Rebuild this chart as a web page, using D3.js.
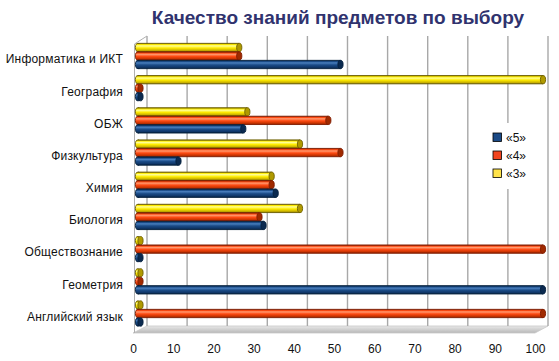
<!DOCTYPE html>
<html><head><meta charset="utf-8">
<script src="https://cdn.jsdelivr.net/npm/d3@7"></script>
<style>body{margin:0;background:#fff}svg{display:block}text{font-family:"Liberation Sans",Arial,sans-serif}</style>
</head><body>
<svg id="c" width="559" height="361"></svg>
<script>
const title = "Качество знаний предметов по выбору";
const categories = ["Информатика и ИКТ","География","ОБЖ ","Физкультура","Химия","Биология","Обществознание","Геометрия","Английский язык"];
const seriesNames = ["«3»","«4»","«5»"];
const values3 = [25,100,27,40,33,40,0,0,0];
const values4 = [25,0,47,50,33,30,100,0,100];
const values5 = [50,0,26,10,34,31,0,100,0];
const xTicks = [0,10,20,30,40,50,60,70,80,90,100];
const legendOrder = ["«5»","«4»","«3»"];

const seriesValues = {"«3»":values3,"«4»":values4,"«5»":values5};
const pal = {
  "«3»":{edge:"#6e6000",hi:"#ffff9a",mid:"#ffec00",lo:"#c9b000",cap:"#b09a00",sw:"#ffe34a"},
  "«4»":{edge:"#801c00",hi:"#ff9a70",mid:"#ff4a12",lo:"#c43200",cap:"#a02a00",sw:"#f2441e"},
  "«5»":{edge:"#05203d",hi:"#4a7fbd",mid:"#1b4c88",lo:"#0f3566",cap:"#0b2a50",sw:"#1b4a86"}
};

const svg = d3.select("#c");
const defs = svg.append("defs");
seriesNames.forEach((s,i)=>{
  const p = pal[s];
  const g = defs.append("linearGradient").attr("id","g"+i).attr("x1",0).attr("y1",0).attr("x2",0).attr("y2",1);
  [[0,p.edge],[0.15,p.mid],[0.3,p.hi],[0.55,p.mid],[0.85,p.lo],[1,p.edge]].forEach(([o,c])=>g.append("stop").attr("offset",o).attr("stop-color",c));
});
const fg = defs.append("linearGradient").attr("id","floor").attr("x1",0).attr("y1",0).attr("x2",0).attr("y2",1);
fg.append("stop").attr("offset",0).attr("stop-color","#e8e8e8");
fg.append("stop").attr("offset",1).attr("stop-color","#b8b8b8");

// scales
const xBar = d3.scaleLinear().domain([0,100]).range([138,543]);
const xBack = d3.scaleLinear().domain([0,100]).range([147,548]);
const xFront = d3.scaleLinear().domain([0,100]).range([133,535]);
const yCat = d3.scaleBand().domain(categories).range([39.9,329.6]);
const ySub = d3.scaleBand().domain(seriesNames).range([-12.75,12.75]);
const backTop = 36, backBottom = 326, frontBottom = 333;

// title
svg.append("text").attr("x",338).attr("y",24).attr("text-anchor","middle")
  .attr("font-size",19).attr("font-weight","bold").attr("fill","#30336e").text(title);

// floor
svg.append("path").attr("d",`M${xFront(0)},${frontBottom} L${xBack(0)},${backBottom} L${xBack(100)},${backBottom} L${xFront(100)},${frontBottom} Z`)
  .attr("fill","url(#floor)").attr("stroke","#c8c8c8").attr("stroke-width",0.8);

// gridlines on back wall
svg.append("g").selectAll("line").data(xTicks).join("line")
  .attr("x1",d=>xBack(d)).attr("x2",d=>xBack(d)).attr("y1",backTop).attr("y2",backBottom)
  .attr("stroke","#a8a8a8").attr("stroke-width",1.4);
// left wall front edge
svg.append("line").attr("x1",134.5).attr("x2",134.5).attr("y1",backTop+8).attr("y2",frontBottom)
  .attr("stroke","#b0b0b0").attr("stroke-width",1);
svg.append("line").attr("x1",134.5).attr("x2",xBack(0)).attr("y1",backTop+8).attr("y2",backTop)
  .attr("stroke","#b0b0b0").attr("stroke-width",1);

// legend box (covers gridline)
svg.append("rect").attr("x",484).attr("y",123).attr("width",60).attr("height",66).attr("fill","#fff");
const lg = svg.append("g").selectAll("g").data(legendOrder).join("g")
  .attr("transform",(d,i)=>`translate(493,${133+i*18})`);
lg.append("rect").attr("width",8.5).attr("height",8.5).attr("fill",d=>pal[d].sw).attr("stroke","#000").attr("stroke-width",0.8);
lg.append("text").attr("x",13).attr("y",4.5).attr("dy","0.36em").attr("font-size",12).attr("fill","#111").text(d=>d);

// bars
const bars = [];
categories.forEach((c,ci)=>seriesNames.forEach((s,si)=>bars.push({c,s,si,v:seriesValues[s][ci]})));
const bh = 8.3, rx = 2.6;
const bg = svg.append("g").selectAll("g").data(bars).join("g")
  .attr("transform",d=>`translate(0,${yCat(d.c)+yCat.bandwidth()/2+ySub(d.s)+ySub.bandwidth()/2})`);
bg.each(function(d){
  const g = d3.select(this), p = pal[d.s];
  const x0 = xBar(0), x1 = Math.max(xBar(d.v), x0+2.5);
  g.append("ellipse").attr("cx",x0).attr("cy",0).attr("rx",rx).attr("ry",bh/2)
    .attr("fill","url(#g"+d.si+")").attr("stroke",p.edge).attr("stroke-width",0.9);
  if (d.v>0){
    g.append("rect").attr("x",x0).attr("y",-bh/2).attr("width",x1-x0).attr("height",bh)
      .attr("fill","url(#g"+d.si+")");
    g.append("line").attr("x1",x0).attr("x2",x1).attr("y1",-bh/2).attr("y2",-bh/2).attr("stroke",p.edge).attr("stroke-width",0.9);
    g.append("line").attr("x1",x0).attr("x2",x1).attr("y1",bh/2).attr("y2",bh/2).attr("stroke",p.edge).attr("stroke-width",0.9);
  }
  g.append("ellipse").attr("cx",x1).attr("cy",0).attr("rx",rx).attr("ry",bh/2)
    .attr("fill",p.cap).attr("stroke",p.edge).attr("stroke-width",0.9);
});

// category labels
svg.append("g").selectAll("text").data(categories).join("text")
  .attr("x",123).attr("y",d=>yCat(d)+yCat.bandwidth()/2+3).attr("dy","0.36em")
  .attr("text-anchor","end").attr("font-size",12).attr("letter-spacing",0.2).attr("fill","#111").text(d=>d);

// x tick labels
const xAxis = d3.axisBottom(xFront).tickValues(xTicks).tickSize(0).tickPadding(0);
const ax = svg.append("g").attr("transform","translate(0,344)").call(xAxis);
ax.select(".domain").remove();
ax.selectAll("text").attr("font-size",12).attr("fill","#111").attr("font-family","Liberation Sans, Arial, sans-serif");
</script>
</body></html>
